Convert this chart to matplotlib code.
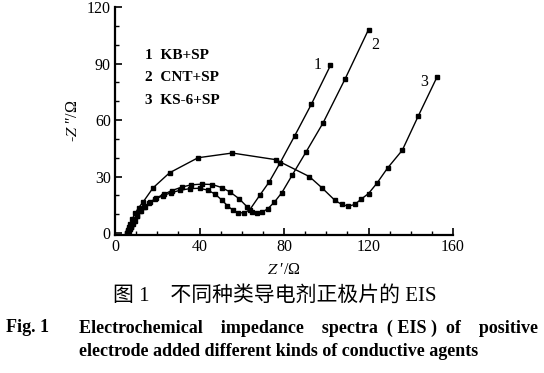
import matplotlib
matplotlib.use("Agg")
import matplotlib.pyplot as plt
from matplotlib.ticker import MultipleLocator

plt.rcParams['font.family'] = ['Liberation Serif', 'Noto Sans CJK SC']
plt.rcParams['mathtext.fontset'] = 'stix'

# 1 KB+SP
x1 = [5.8, 6.3, 6.8, 7.4, 8.0, 9.0, 10.2, 11.8, 13.6, 16.0, 19.0, 22.5, 26.5, 31.0, 35.5,
      40.0, 44.0, 47.5, 50.5, 53.2, 55.7, 58.2, 61.3, 63.8, 68.6, 72.9, 78.0, 85.0, 93.0, 102.0]
y1 = [0.3, 1.0, 2.0, 3.2, 4.6, 6.6, 9.0, 11.6, 13.8, 16.0, 18.0, 19.8, 21.4, 22.8, 23.6,
      23.8, 22.8, 20.6, 17.6, 14.6, 12.2, 10.8, 10.8, 12.4, 20.2, 27.0, 37.0, 51.5, 68.5, 89.0]

# 2 CNT+SP
x2 = [6.0, 6.5, 7.0, 7.6, 8.3, 9.3, 10.6, 12.2, 14.2, 16.6, 19.5, 23.0, 27.0, 31.5, 36.0,
      41.0, 46.0, 50.5, 54.5, 58.8, 62.5, 65.0, 67.3, 69.8, 72.4, 75.5, 79.0, 84.0, 90.4,
      98.5, 109.0, 120.0]
y2 = [0.3, 1.0, 2.0, 3.2, 4.6, 6.6, 9.0, 11.6, 14.0, 16.4, 18.6, 20.6, 22.6, 24.4, 25.6,
      26.0, 25.8, 24.2, 21.8, 18.2, 14.0, 11.4, 10.6, 11.2, 13.0, 16.5, 21.5, 31.0, 43.0,
      58.5, 82.0, 108.0]

# 3 KS-6+SP
x3 = [5.5, 6.0, 6.6, 7.3, 8.2, 9.5, 11.2, 13.3, 18.0, 25.8, 39.3, 55.5, 76.0, 92.0, 98.0,
      104.0, 107.3, 110.5, 113.5, 116.5, 120.0, 124.0, 129.0, 136.0, 143.5, 152.5]
y3 = [0.3, 1.5, 3.0, 5.0, 7.5, 10.5, 13.5, 16.5, 24.0, 32.0, 40.0, 42.5, 39.0, 30.0, 24.0,
      17.5, 15.2, 14.3, 15.2, 18.0, 21.0, 26.5, 34.5, 44.0, 62.0, 83.0]

legend_labels = ["1  KB+SP", "2  CNT+SP", "3  KS-6+SP"]
curve_tags = ["1", "2", "3"]

fig = plt.figure(figsize=(5.44, 3.73), dpi=100)
ax = fig.add_axes([115 / 544, 1 - 235 / 373, 338 / 544, 228 / 373])

for xs, ys in [(x1, y1), (x2, y2), (x3, y3)]:
    ax.plot(xs, ys, color='black', lw=1.0, marker='s', ms=2.6)

ax.set_xlim(0, 160)
ax.set_ylim(-1, 120)
ax.xaxis.set_major_locator(MultipleLocator(40))
ax.xaxis.set_minor_locator(MultipleLocator(10))
ax.yaxis.set_major_locator(MultipleLocator(30))
ax.yaxis.set_minor_locator(MultipleLocator(10))
ax.spines['top'].set_visible(False)
ax.spines['right'].set_visible(False)
for s in ['left', 'bottom']:
    ax.spines[s].set_linewidth(1.6)
ax.tick_params(which='major', direction='in', length=5, width=1.2, labelsize=11.5, pad=3)
ax.tick_params(which='minor', direction='in', length=3, width=1.0)

ax.set_xlabel("$Z$ ′/Ω", fontsize=11.5, labelpad=5)
ax.set_ylabel("-$Z$ ″/Ω", fontsize=11.5, labelpad=4)

for i, lab in enumerate(legend_labels):
    ax.text(14.0, 94.5 - i * 12.0, lab, fontsize=11, fontweight='bold', va='center')

tag_pos = [(96, 89), (123, 100), (146.5, 80)]
for tag, (tx, ty) in zip(curve_tags, tag_pos):
    ax.text(tx, ty, tag, fontsize=11.5, va='center', ha='center')

fig.text(275 / 544, 1 - 296 / 373, "图 1　不同种类导电剂正极片的 EIS",
         fontsize=15, ha='center', va='center', fontweight='medium',
         family=['Liberation Serif', 'Noto Sans CJK SC'])
fig.text(6 / 544, 1 - 328 / 373, "Fig. 1", fontsize=13, fontweight='bold',
         ha='left', va='center')
fig.text(79 / 544, 1 - 328 / 373,
         "Electrochemical    impedance    spectra  ( EIS )  of    positive",
         fontsize=13, fontweight='bold', ha='left', va='center')
fig.text(79 / 544, 1 - 352 / 373,
         "electrode added different kinds of conductive agents",
         fontsize=13, fontweight='bold', ha='left', va='center')

fig.savefig("out.png", dpi=100)
